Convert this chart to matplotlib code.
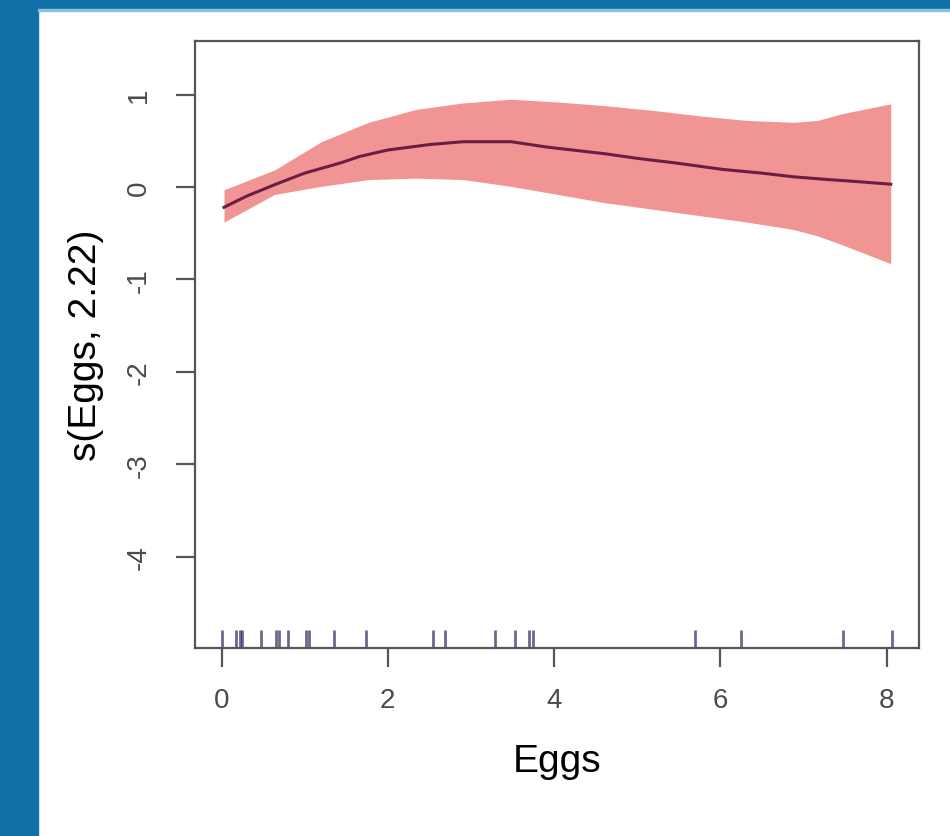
import matplotlib
matplotlib.use("Agg")
import matplotlib.pyplot as plt
from matplotlib.patches import Rectangle

plt.rcParams['font.family'] = ['Liberation Sans', 'DejaVu Sans']

# smooth term estimate
fit_x = [0.03, 0.3, 0.64, 1.0, 1.43, 1.66, 2.0, 2.51, 2.91, 3.48, 3.93,
         4.61, 5.0, 5.46, 6.03, 6.5, 6.88, 7.3, 7.62, 8.05]
fit_y = [-0.22, -0.10, 0.025, 0.15, 0.26, 0.33, 0.40, 0.46, 0.49, 0.49, 0.43,
         0.36, 0.31, 0.26, 0.19, 0.15, 0.11, 0.08, 0.06, 0.03]

# confidence band
band_x = [0.03, 0.64, 1.2, 1.77, 2.34, 2.91, 3.48, 4.04, 4.61, 5.18, 5.75,
          6.32, 6.88, 7.17, 7.45, 8.05]
band_hi = [-0.03, 0.185, 0.49, 0.70, 0.84, 0.91, 0.95, 0.92, 0.88, 0.83, 0.77,
           0.72, 0.70, 0.72, 0.79, 0.90]
band_lo = [-0.38, -0.08, 0.007, 0.08, 0.096, 0.08, 0.007, -0.08, -0.17, -0.24, -0.31,
           -0.38, -0.46, -0.53, -0.62, -0.83]

# observed Eggs values (rug)
rug_x = [0.0, 0.18, 0.22, 0.25, 0.48, 0.66, 0.69, 0.80, 1.02, 1.05, 1.35, 1.74,
         2.54, 2.69, 3.29, 3.53, 3.70, 3.75, 5.69, 6.25, 7.47, 8.06]

x_ticks = [0, 2, 4, 6, 8]
y_ticks = [1, 0, -1, -2, -3, -4]

fig = plt.figure(figsize=(9.5, 8.37), dpi=100)
fig.patch.set_facecolor('white')

# blue frame on left and top
blue = '#1170a6'
fig.patches.append(Rectangle((0, 0), 38 / 950, 1, transform=fig.transFigure,
                             color=blue, zorder=0))
fig.patches.append(Rectangle((0, 1 - 10 / 837), 1, 10 / 837, transform=fig.transFigure,
                             color=blue, zorder=0))
fig.patches.append(Rectangle((38 / 950, 1 - 12 / 837), 1, 2 / 837, transform=fig.transFigure,
                             color='#8cc2e2', zorder=0))

ax = fig.add_axes([195 / 950, 1 - 649 / 837, (919 - 195) / 950, (649 - 42) / 837])

ax.fill_between(band_x, band_lo, band_hi, color='#f09494', lw=0)
ax.plot(fit_x, fit_y, color='#6b1e45', lw=2.2)
ax.vlines(rug_x, 0, 0.03, transform=ax.get_xaxis_transform(),
          color='#2a2a5e', alpha=0.7, lw=2)

ax.set_xlim(-0.319, 8.39)
ax.set_ylim(-4.99, 1.58)
ax.set_xticks(x_ticks)
ax.set_yticks(y_ticks)
ax.set_yticklabels([str(v) for v in y_ticks], rotation=90, va='center')

for s in ax.spines.values():
    s.set_color('#555555')
    s.set_linewidth(1.6)

ax.tick_params(axis='both', length=14, width=1.6, color='#555555',
               labelcolor='#4a4a4a', labelsize=20)
ax.tick_params(axis='x', pad=14)
ax.tick_params(axis='y', pad=17)

ax.set_xlabel('Eggs', fontsize=28, labelpad=22)
ax.set_ylabel('s(Eggs, 2.22)', fontsize=28, labelpad=16)

fig.savefig('out.png', dpi=100)
